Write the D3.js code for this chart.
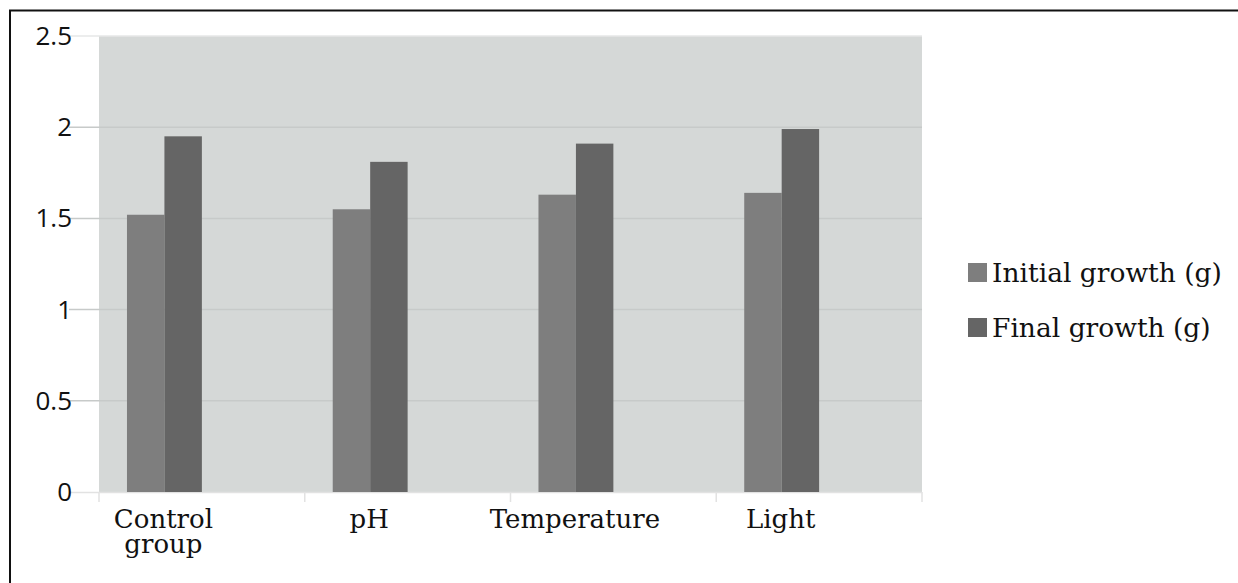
<!DOCTYPE html>
<html>
<head>
<meta charset="utf-8">
<script src="https://cdn.jsdelivr.net/npm/d3@7"></script>
<style>
  html,body{margin:0;padding:0;background:#fff;}
  svg{display:block;}
</style>
</head>
<body>
<div id="chart"></div>
<script>
const categories = [['Control','group'],['pH'],['Temperature'],['Light']];
const seriesNames = ['Initial growth (g)','Final growth (g)'];
const initialGrowth = [1.52, 1.55, 1.63, 1.64];
const finalGrowth = [1.95, 1.81, 1.91, 1.99];
const yTicks = [0, 0.5, 1, 1.5, 2, 2.5];
const colors = ['#7e7e7e','#656565'];

const W=1238, H=583;
const svg=d3.select('#chart').append('svg').attr('width',W).attr('height',H);

// outer frame (runs off the right/bottom of the picture)
svg.append('rect').attr('x',10).attr('y',10.5).attr('width',W+20).attr('height',H+20)
  .attr('fill','none').attr('stroke','#111').attr('stroke-width',2);

const plot={l:99,r:922,t:36,b:492};
const keys=categories.map(c=>c.join(' '));
const x0=d3.scaleBand().domain(keys).range([plot.l,plot.r]);
// bars sit left of the band centre, as in the source spreadsheet
const bw=x0.bandwidth();
const x1=d3.scaleBand().domain([0,1]).range([bw*0.136,bw*0.5]);
const y=d3.scaleLinear().domain([0,2.5]).range([plot.b,plot.t]);

svg.append('rect').attr('x',plot.l).attr('y',plot.t).attr('width',plot.r-plot.l).attr('height',plot.b-plot.t)
  .attr('fill','#d5d8d7');

// gridlines
svg.append('g').selectAll('line').data(yTicks.filter(d=>d>0)).join('line')
  .attr('x1',plot.l-30).attr('x2',plot.r).attr('y1',d=>y(d)).attr('y2',d=>y(d))
  .attr('stroke',d=>d===2.5?'#e6e7e7':'#c7cac9').attr('stroke-width',1.5);

// category tick marks
svg.append('g').selectAll('line').data(d3.range(keys.length+1)).join('line')
  .attr('x1',i=>plot.l+i*bw).attr('x2',i=>plot.l+i*bw)
  .attr('y1',plot.b).attr('y2',plot.b+10).attr('stroke','#e2e2e2').attr('stroke-width',1.5);
svg.append('line').attr('x1',plot.l-30).attr('x2',plot.r).attr('y1',plot.b+0.5).attr('y2',plot.b+0.5)
  .attr('stroke','#e2e2e2').attr('stroke-width',1.5);

// bars
const seriesData=[initialGrowth, finalGrowth];
const groups=svg.append('g').selectAll('g').data(keys).join('g')
  .attr('transform',d=>`translate(${x0(d)},0)`);
groups.selectAll('rect').data((d,i)=>seriesData.map((s,j)=>({j,v:s[i]}))).join('rect')
  .attr('x',d=>x1(d.j)).attr('width',x1.bandwidth())
  .attr('y',d=>y(d.v)).attr('height',d=>y(0)-y(d.v))
  .attr('fill',d=>colors[d.j]);

// y tick labels
svg.append('g').selectAll('text').data(yTicks).join('text')
  .attr('x',72).attr('y',d=>y(d)+9)
  .attr('text-anchor','end')
  .attr('font-family','"Open Sans", sans-serif').attr('font-size',26).attr('fill','#111')
  .text(d=>d);

// category labels, centred under the two drawn bars
const labels=svg.append('g').selectAll('text').data(categories).join('text')
  .attr('font-family','"DejaVu Serif", serif').attr('font-size',26).attr('fill','#111')
  .attr('text-anchor','middle')
  .attr('transform',(d,i)=>`translate(${x0(keys[i])+x1(1)-1},528)`);
labels.selectAll('tspan').data(d=>d).join('tspan')
  .attr('x',0).attr('dy',(d,i)=>i?25:0).text(d=>d);

// legend
const lg=svg.append('g').attr('transform','translate(968,263)');
const li=lg.selectAll('g').data(seriesNames).join('g').attr('transform',(d,i)=>`translate(0,${i*55})`);
li.append('rect').attr('width',19).attr('height',19).attr('fill',(d,i)=>colors[i]);
li.append('text').attr('x',24).attr('y',19)
  .attr('font-family','"DejaVu Serif", serif').attr('font-size',26.5).attr('fill','#111')
  .text(d=>d);
</script>
</body>
</html>
